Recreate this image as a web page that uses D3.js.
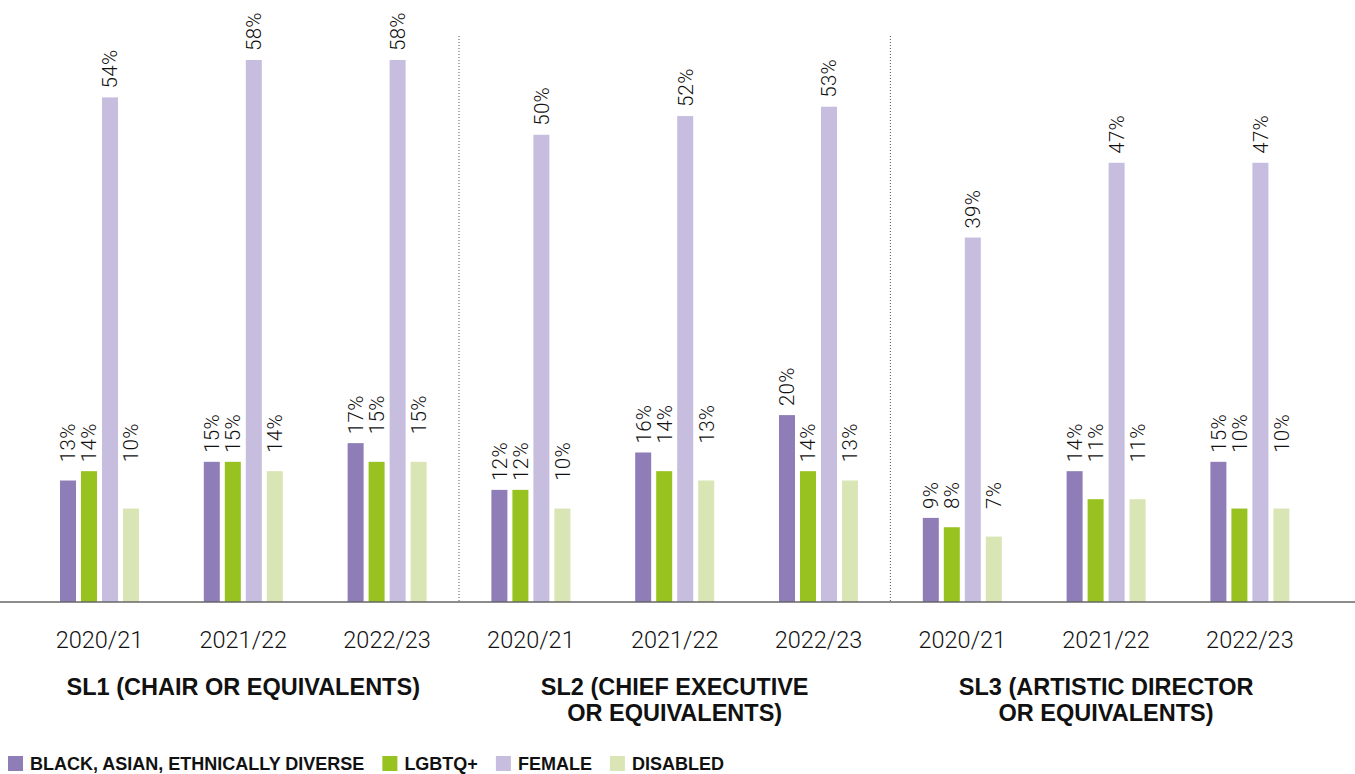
<!DOCTYPE html>
<html>
<head>
<meta charset="utf-8">
<script src="https://cdn.jsdelivr.net/npm/d3@7"></script>
<style>
  html, body { margin: 0; padding: 0; background: #ffffff; }
  svg { display: block; }
</style>
</head>
<body>
<svg id="chart" width="1355" height="774"></svg>
<script>
// Senior leadership diversity, by level and year
const years = ["2020/21", "2021/22", "2022/23"];
const sectionTitles = [
  ["SL1 (CHAIR OR EQUIVALENTS)"],
  ["SL2 (CHIEF EXECUTIVE", "OR EQUIVALENTS)"],
  ["SL3 (ARTISTIC DIRECTOR", "OR EQUIVALENTS)"]
];
const seriesNames = ["BLACK, ASIAN, ETHNICALLY DIVERSE", "LGBTQ+", "FEMALE", "DISABLED"];
const seriesColors = ["#8f7db8", "#97c21f", "#c7bddf", "#d9e5b4"];

// One value per section/year group: SL1 x3, SL2 x3, SL3 x3
const bame     = [13, 15, 17, 12, 16, 20,  9, 14, 15];
const lgbtq    = [14, 15, 15, 12, 14, 14,  8, 11, 10];
const female   = [54, 58, 58, 50, 52, 53, 39, 47, 47];
const disabled = [10, 14, 15, 10, 13, 13,  7, 11, 10];

const seriesValues = [bame, lgbtq, female, disabled];

const groups = [];
sectionTitles.forEach((t, s) => years.forEach((yr, k) => groups.push({ id: s + "-" + k, section: s, year: yr })));

const svg = d3.select("#chart");
const baseY = 602;

const x0 = d3.scaleBand().domain(groups.map(g => g.id)).range([27.6, 1321.8]).padding(0);
const x1 = d3.scaleBand().domain(d3.range(seriesNames.length)).range([0, 79]).paddingInner(5 / 21).paddingOuter(0);
const y = d3.scaleLinear().domain([0, 58]).range([baseY, 60]);

const valueFont = "Roboto, 'Liberation Sans', sans-serif";
const boldFont = "'Liberation Sans', Arial, sans-serif";

// Section dividers (dotted)
[3, 6].forEach(i => {
  const xd = x0(groups[i].id);
  svg.append("line")
    .attr("x1", xd).attr("x2", xd)
    .attr("y1", 36).attr("y2", baseY)
    .attr("stroke", "#555").attr("stroke-width", 1)
    .attr("stroke-dasharray", "1,2");
});

// Label level for the smaller series: bars whose values are close share one label height
function labelLevels(gi) {
  const idx = [0, 1, 3];
  const items = idx.map(si => ({ si, v: seriesValues[si][gi] })).sort((a, b) => a.v - b.v);
  const levels = {};
  let cluster = [items[0]];
  const flush = () => {
    const m = d3.max(cluster, d => d.v);
    cluster.forEach(d => levels[d.si] = m);
  };
  for (let i = 1; i < items.length; i++) {
    if (items[i].v - items[i - 1].v <= 5) cluster.push(items[i]);
    else { flush(); cluster = [items[i]]; }
  }
  flush();
  levels[2] = seriesValues[2][gi];
  return levels;
}

const gGroups = svg.selectAll("g.grp").data(groups).join("g")
  .attr("class", "grp")
  .attr("transform", d => `translate(${x0(d.id) + x0.bandwidth() / 2 - 39.5},0)`);

gGroups.each(function (g, gi) {
  const sel = d3.select(this);
  const levels = labelLevels(gi);
  seriesNames.forEach((name, si) => {
    const v = seriesValues[si][gi];
    const bx = x1(si);
    sel.append("rect")
      .attr("x", bx).attr("width", x1.bandwidth())
      .attr("y", y(v)).attr("height", baseY - y(v))
      .attr("fill", seriesColors[si]);
    const cx = bx + x1.bandwidth() / 2;
    sel.append("text")
      .attr("transform", `translate(${cx},${y(levels[si]) - 9}) rotate(-90)`)
      .attr("dy", "0.36em")
      .attr("text-anchor", "start")
      .attr("font-family", valueFont)
      .attr("font-weight", 300)
      .attr("font-size", 20.5)
      .attr("letter-spacing", 0.3)
      .attr("fill", "#111")
      .text(v + "%");
  });
});

// Baseline
svg.append("line")
  .attr("x1", 0).attr("x2", 1355)
  .attr("y1", baseY).attr("y2", baseY)
  .attr("stroke", "#666").attr("stroke-width", 1.5);

// Year labels
svg.selectAll("text.year").data(groups).join("text")
  .attr("class", "year")
  .attr("x", d => x0(d.id) + x0.bandwidth() / 2)
  .attr("y", 648)
  .attr("text-anchor", "middle")
  .attr("font-family", valueFont)
  .attr("font-weight", 300)
  .attr("font-size", 23.5)
  .attr("fill", "#111")
  .text(d => d.year);

// Section titles
sectionTitles.forEach((lines, s) => {
  const first = x0(groups[s * 3].id);
  const last = x0(groups[s * 3 + 2].id) + x0.bandwidth();
  const cx = (first + last) / 2;
  const t = svg.append("text")
    .attr("x", cx).attr("y", 695)
    .attr("text-anchor", "middle")
    .attr("font-family", boldFont)
    .attr("font-weight", 700)
    .attr("font-size", 23.5)
    .attr("fill", "#111");
  lines.forEach((ln, i) => {
    t.append("tspan").attr("x", cx).attr("dy", i === 0 ? 0 : 26).text(ln);
  });
});

// Legend
let lx = 8;
const legY = 756;
seriesNames.forEach((name, si) => {
  svg.append("rect")
    .attr("x", lx).attr("y", legY)
    .attr("width", 15).attr("height", 15)
    .attr("fill", seriesColors[si]);
  const t = svg.append("text")
    .attr("x", lx + 22).attr("y", legY + 14)
    .attr("font-family", boldFont)
    .attr("font-weight", 700)
    .attr("font-size", 18)
    .attr("fill", "#111")
    .text(name);
  lx = lx + 22 + t.node().getComputedTextLength() + 18;
});
</script>
</body>
</html>
